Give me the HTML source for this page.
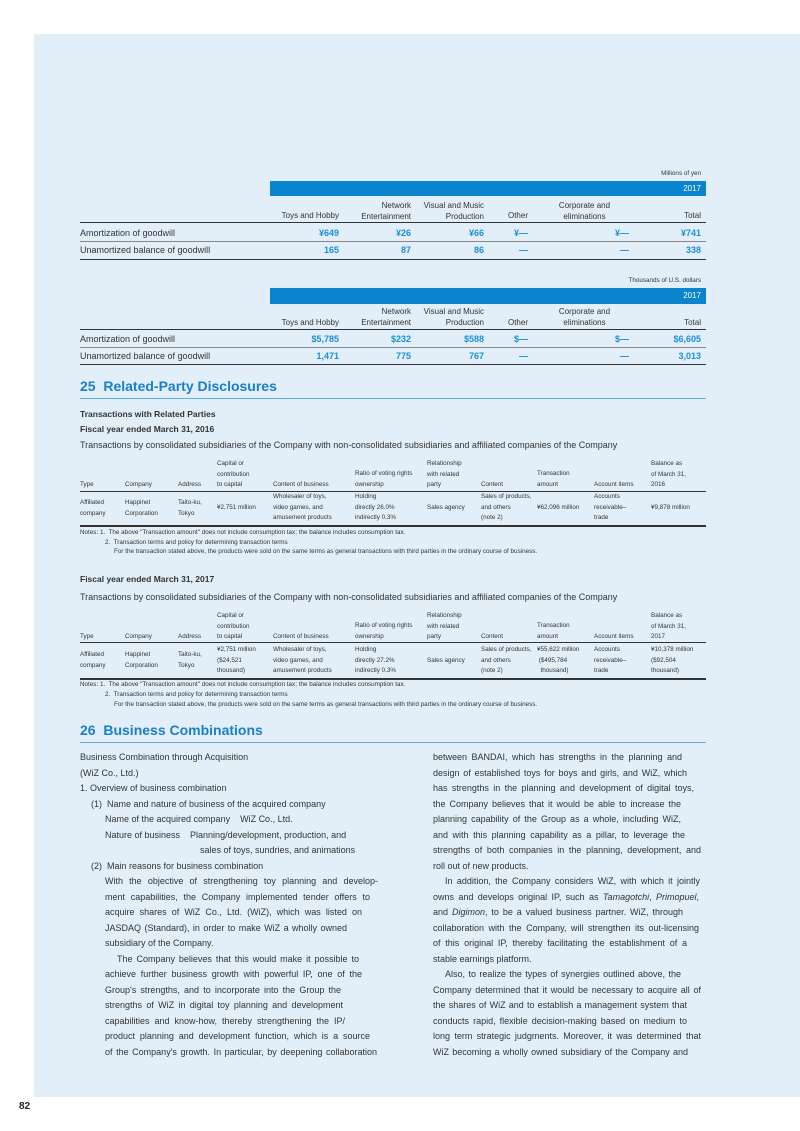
<!DOCTYPE html>
<html><head><meta charset="utf-8"><style>
*{margin:0;padding:0}
body{width:800px;height:1131px;background:#fff;position:relative;overflow:hidden;font-family:"Liberation Sans",sans-serif;color:#333}
.bg{position:absolute;left:34px;top:34px;width:766px;height:1063px;background:#e2eff9}
.t{position:absolute;white-space:nowrap;line-height:1}
.r{text-align:right}
.bar{position:absolute;background:#0a84cc}
.ln{position:absolute;height:1px;background:#333}
.h9{font-size:8px}
.b{font-size:9px}
.blue{color:#1a8fd8;font-weight:bold}
.s{font-size:6.3px;line-height:10.5px}
.j{text-align:justify;text-align-last:justify}
.p{font-size:9px}
h2{position:absolute;font-size:14px;color:#1a7fc8;font-weight:bold;white-space:nowrap}
</style></head><body>
<div class="bg"></div>

<!-- Table 1 -->
<div class="t s r" style="left:600px;top:169px;width:101px">Millions of yen</div>
<div class="bar" style="left:270px;top:181px;width:436px;height:15px"></div>
<div class="t h9 r" style="left:600px;top:185px;width:101px;color:#fff">2017</div>
<div class="t h9 r" style="left:250px;top:212px;width:89px">Toys and Hobby</div>
<div class="t h9 r" style="left:330px;top:202px;width:81px">Network<br><span style="line-height:13px">Entertainment</span></div>
<div class="t h9 r" style="left:400px;top:202px;width:84px">Visual and Music<br><span style="line-height:13px">Production</span></div>
<div class="t h9 r" style="left:480px;top:212px;width:48px">Other</div>
<div class="t h9 r" style="left:540px;top:202px;width:89px;text-align:center">Corporate and<br><span style="line-height:13px">eliminations</span></div>
<div class="t h9 r" style="left:640px;top:212px;width:61px">Total</div>
<div class="ln" style="left:80px;top:222px;width:626px"></div>
<div class="t b" style="left:80px;top:229px">Amortization of goodwill</div>
<div class="t b blue r" style="left:250px;top:229px;width:89px">¥649</div>
<div class="t b blue r" style="left:330px;top:229px;width:81px">¥26</div>
<div class="t b blue r" style="left:400px;top:229px;width:84px">¥66</div>
<div class="t b blue r" style="left:480px;top:229px;width:48px">¥—</div>
<div class="t b blue r" style="left:540px;top:229px;width:89px">¥—</div>
<div class="t b blue r" style="left:640px;top:229px;width:61px">¥741</div>
<div class="ln" style="left:80px;top:241px;width:626px;background:#888"></div>
<div class="t b" style="left:80px;top:246px">Unamortized balance of goodwill</div>
<div class="t b blue r" style="left:250px;top:246px;width:89px">165</div>
<div class="t b blue r" style="left:330px;top:246px;width:81px">87</div>
<div class="t b blue r" style="left:400px;top:246px;width:84px">86</div>
<div class="t b blue r" style="left:480px;top:246px;width:48px">—</div>
<div class="t b blue r" style="left:540px;top:246px;width:89px">—</div>
<div class="t b blue r" style="left:640px;top:246px;width:61px">338</div>
<div class="ln" style="left:80px;top:259px;width:626px"></div>

<!-- Table 2 -->
<div class="t s r" style="left:560px;top:276px;width:141px">Thousands of U.S. dollars</div>
<div class="bar" style="left:270px;top:288px;width:436px;height:16px"></div>
<div class="t h9 r" style="left:600px;top:292px;width:101px;color:#fff">2017</div>
<div class="t h9 r" style="left:250px;top:319px;width:89px">Toys and Hobby</div>
<div class="t h9 r" style="left:330px;top:308px;width:81px">Network<br><span style="line-height:13px">Entertainment</span></div>
<div class="t h9 r" style="left:400px;top:308px;width:84px">Visual and Music<br><span style="line-height:13px">Production</span></div>
<div class="t h9 r" style="left:480px;top:319px;width:48px">Other</div>
<div class="t h9 r" style="left:540px;top:308px;width:89px;text-align:center">Corporate and<br><span style="line-height:13px">eliminations</span></div>
<div class="t h9 r" style="left:640px;top:319px;width:61px">Total</div>
<div class="ln" style="left:80px;top:329px;width:626px"></div>
<div class="t b" style="left:80px;top:335px">Amortization of goodwill</div>
<div class="t b blue r" style="left:250px;top:335px;width:89px">$5,785</div>
<div class="t b blue r" style="left:330px;top:335px;width:81px">$232</div>
<div class="t b blue r" style="left:400px;top:335px;width:84px">$588</div>
<div class="t b blue r" style="left:480px;top:335px;width:48px">$—</div>
<div class="t b blue r" style="left:540px;top:335px;width:89px">$—</div>
<div class="t b blue r" style="left:640px;top:335px;width:61px">$6,605</div>
<div class="ln" style="left:80px;top:347px;width:626px;background:#888"></div>
<div class="t b" style="left:80px;top:352px">Unamortized balance of goodwill</div>
<div class="t b blue r" style="left:250px;top:352px;width:89px">1,471</div>
<div class="t b blue r" style="left:330px;top:352px;width:81px">775</div>
<div class="t b blue r" style="left:400px;top:352px;width:84px">767</div>
<div class="t b blue r" style="left:480px;top:352px;width:48px">—</div>
<div class="t b blue r" style="left:540px;top:352px;width:89px">—</div>
<div class="t b blue r" style="left:640px;top:352px;width:61px">3,013</div>
<div class="ln" style="left:80px;top:364px;width:626px"></div>

<h2 style="left:80px;top:378px">25&nbsp; Related-Party Disclosures</h2>
<div class="ln" style="left:80px;top:398px;width:626px;background:#5aaee0"></div>

<div class="t" style="left:80px;top:410px;font-size:8.5px;font-weight:bold">Transactions with Related Parties</div>
<div class="t" style="left:80px;top:425px;font-size:8.5px;font-weight:bold">Fiscal year ended March 31, 2016</div>
<div class="t p" style="left:80px;top:441px">Transactions by consolidated subsidiaries of the Company with non-consolidated subsidiaries and affiliated companies of the Company</div>

<div class="t s" style="left:80px;top:480px">Type</div>
<div class="t s" style="left:125px;top:480px">Company</div>
<div class="t s" style="left:178px;top:480px">Address</div>
<div class="t s" style="left:217px;top:459px">Capital or<br>contribution<br>to capital</div>
<div class="t s" style="left:273px;top:480px">Content of business</div>
<div class="t s" style="left:355px;top:469px">Ratio of voting rights<br>ownership</div>
<div class="t s" style="left:427px;top:459px">Relationship<br>with related<br>party</div>
<div class="t s" style="left:481px;top:480px">Content</div>
<div class="t s" style="left:537px;top:469px">Transaction<br>amount</div>
<div class="t s" style="left:594px;top:480px">Account items</div>
<div class="t s" style="left:651px;top:459px">Balance as<br>of March 31,<br>2016</div>
<div class="ln" style="left:80px;top:491px;width:626px"></div>
<div class="t s" style="left:80px;top:498px">Affiliated<br>company</div>
<div class="t s" style="left:125px;top:498px">Happinet<br>Corporation</div>
<div class="t s" style="left:178px;top:498px">Taito-ku,<br>Tokyo</div>
<div class="t s" style="left:217px;top:503px">¥2,751 million</div>
<div class="t s" style="left:273px;top:492px">Wholesaler of toys,<br>video games, and<br>amusement products</div>
<div class="t s" style="left:355px;top:492px">Holding<br>directly 26.0%<br>indirectly 0.3%</div>
<div class="t s" style="left:427px;top:503px">Sales agency</div>
<div class="t s" style="left:481px;top:492px">Sales of products,<br>and others<br>(note 2)</div>
<div class="t s" style="left:537px;top:503px">¥62,096 million</div>
<div class="t s" style="left:594px;top:492px">Accounts<br>receivable–<br>trade</div>
<div class="t s" style="left:651px;top:503px">¥9,878 million</div>
<div class="ln" style="left:80px;top:525px;width:626px;height:1.5px"></div>
<div class="t s" style="left:80px;top:528px">Notes: 1.&nbsp; The above "Transaction amount" does not include consumption tax; the balance includes consumption tax.</div>
<div class="t s" style="left:105px;top:538px">2.&nbsp; Transaction terms and policy for determining transaction terms</div>
<div class="t s" style="left:114px;top:547px">For the transaction stated above, the products were sold on the same terms as general transactions with third parties in the ordinary course of business.</div>

<div class="t" style="left:80px;top:575px;font-size:8.5px;font-weight:bold">Fiscal year ended March 31, 2017</div>
<div class="t p" style="left:80px;top:593px">Transactions by consolidated subsidiaries of the Company with non-consolidated subsidiaries and affiliated companies of the Company</div>

<div class="t s" style="left:80px;top:632px">Type</div>
<div class="t s" style="left:125px;top:632px">Company</div>
<div class="t s" style="left:178px;top:632px">Address</div>
<div class="t s" style="left:217px;top:611px">Capital or<br>contribution<br>to capital</div>
<div class="t s" style="left:273px;top:632px">Content of business</div>
<div class="t s" style="left:355px;top:621px">Ratio of voting rights<br>ownership</div>
<div class="t s" style="left:427px;top:611px">Relationship<br>with related<br>party</div>
<div class="t s" style="left:481px;top:632px">Content</div>
<div class="t s" style="left:537px;top:621px">Transaction<br>amount</div>
<div class="t s" style="left:594px;top:632px">Account items</div>
<div class="t s" style="left:651px;top:611px">Balance as<br>of March 31,<br>2017</div>
<div class="ln" style="left:80px;top:642px;width:626px"></div>
<div class="t s" style="left:80px;top:650px">Affiliated<br>company</div>
<div class="t s" style="left:125px;top:650px">Happinet<br>Corporation</div>
<div class="t s" style="left:178px;top:650px">Taito-ku,<br>Tokyo</div>
<div class="t s" style="left:217px;top:645px">¥2,751 million<br>($24,521<br>thousand)</div>
<div class="t s" style="left:273px;top:645px">Wholesaler of toys,<br>video games, and<br>amusement products</div>
<div class="t s" style="left:355px;top:645px">Holding<br>directly 27.2%<br>indirectly 0.3%</div>
<div class="t s" style="left:427px;top:656px">Sales agency</div>
<div class="t s" style="left:481px;top:645px">Sales of products,<br>and others<br>(note 2)</div>
<div class="t s" style="left:537px;top:645px">¥55,622 million<br>&nbsp;($495,784<br>&nbsp;&nbsp;thousand)</div>
<div class="t s" style="left:594px;top:645px">Accounts<br>receivable–<br>trade</div>
<div class="t s" style="left:651px;top:645px">¥10,378 million<br>($92,504<br>thousand)</div>
<div class="ln" style="left:80px;top:678px;width:626px;height:1.5px"></div>
<div class="t s" style="left:80px;top:680px">Notes: 1.&nbsp; The above "Transaction amount" does not include consumption tax; the balance includes consumption tax.</div>
<div class="t s" style="left:105px;top:690px">2.&nbsp; Transaction terms and policy for determining transaction terms</div>
<div class="t s" style="left:114px;top:700px">For the transaction stated above, the products were sold on the same terms as general transactions with third parties in the ordinary course of business.</div>

<h2 style="left:80px;top:722px">26&nbsp; Business Combinations</h2>
<div class="ln" style="left:80px;top:742px;width:626px;background:#5aaee0"></div>

<!-- Left column -->
<div class="t p" style="left:80px;top:753px">Business Combination through Acquisition</div>
<div class="t p" style="left:80px;top:768.5px">(WiZ Co., Ltd.)</div>
<div class="t p" style="left:80px;top:784px">1. Overview of business combination</div>
<div class="t p" style="left:91px;top:799.5px">(1)&nbsp; Name and nature of business of the acquired company</div>
<div class="t p" style="left:105px;top:815px">Name of the acquired company&nbsp;&nbsp;&nbsp; WiZ Co., Ltd.</div>
<div class="t p" style="left:105px;top:830.5px">Nature of business&nbsp;&nbsp;&nbsp; Planning/development, production, and</div>
<div class="t p" style="left:200px;top:846px">sales of toys, sundries, and animations</div>
<div class="t p" style="left:91px;top:861.5px">(2)&nbsp; Main reasons for business combination</div>
<div class="t p j" style="left:105px;top:877px;width:273px">With the objective of strengthening toy planning and develop-</div>
<div class="t p j" style="left:105px;top:892.5px;width:265px">ment capabilities, the Company implemented tender offers to</div>
<div class="t p j" style="left:105px;top:908px;width:257px">acquire shares of WiZ Co., Ltd. (WiZ), which was listed on</div>
<div class="t p j" style="left:105px;top:923.5px;width:242px">JASDAQ (Standard), in order to make WiZ a wholly owned</div>
<div class="t p" style="left:105px;top:939px">subsidiary of the Company.</div>
<div class="t p j" style="left:117px;top:954.5px;width:242px">The Company believes that this would make it possible to</div>
<div class="t p j" style="left:105px;top:970px;width:257px">achieve further business growth with powerful IP, one of the</div>
<div class="t p j" style="left:105px;top:985.5px;width:236px">Group's strengths, and to incorporate into the Group the</div>
<div class="t p j" style="left:105px;top:1001px;width:238px">strengths of WiZ in digital toy planning and development</div>
<div class="t p j" style="left:105px;top:1016.5px;width:240px">capabilities and know-how, thereby strengthening the IP/</div>
<div class="t p j" style="left:105px;top:1032px;width:265px">product planning and development function, which is a source</div>
<div class="t p j" style="left:105px;top:1047.5px;width:272px">of the Company's growth. In particular, by deepening collaboration</div>

<!-- Right column -->
<div class="t p j" style="left:433px;top:753px;width:249px">between BANDAI, which has strengths in the planning and</div>
<div class="t p j" style="left:433px;top:768.5px;width:254px">design of established toys for boys and girls, and WiZ, which</div>
<div class="t p j" style="left:433px;top:784px;width:261px">has strengths in the planning and development of digital toys,</div>
<div class="t p j" style="left:433px;top:799.5px;width:248px">the Company believes that it would be able to increase the</div>
<div class="t p j" style="left:433px;top:815px;width:248px">planning capability of the Group as a whole, including WiZ,</div>
<div class="t p j" style="left:433px;top:830.5px;width:252px">and with this planning capability as a pillar, to leverage the</div>
<div class="t p j" style="left:433px;top:846px;width:268px">strengths of both companies in the planning, development, and</div>
<div class="t p" style="left:433px;top:861.5px">roll out of new products.</div>
<div class="t p j" style="left:445px;top:877px;width:255px">In addition, the Company considers WiZ, with which it jointly</div>
<div class="t p j" style="left:433px;top:892.5px;width:266px">owns and develops original IP, such as <i>Tamagotchi</i>, <i>Primopuel</i>,</div>
<div class="t p j" style="left:433px;top:908px;width:250px">and <i>Digimon</i>, to be a valued business partner. WiZ, through</div>
<div class="t p j" style="left:433px;top:923.5px;width:266px">collaboration with the Company, will strengthen its out-licensing</div>
<div class="t p j" style="left:433px;top:939px;width:254px">of this original IP, thereby facilitating the establishment of a</div>
<div class="t p" style="left:433px;top:954.5px">stable earnings platform.</div>
<div class="t p j" style="left:445px;top:970px;width:236px">Also, to realize the types of synergies outlined above, the</div>
<div class="t p j" style="left:433px;top:985.5px;width:268px">Company determined that it would be necessary to acquire all of</div>
<div class="t p j" style="left:433px;top:1001px;width:254px">the shares of WiZ and to establish a management system that</div>
<div class="t p j" style="left:433px;top:1016.5px;width:254px">conducts rapid, flexible decision-making based on medium to</div>
<div class="t p j" style="left:433px;top:1032px;width:268px">long term strategic judgments. Moreover, it was determined that</div>
<div class="t p j" style="left:433px;top:1047.5px;width:255px">WiZ becoming a wholly owned subsidiary of the Company and</div>

<div class="t" style="left:19px;top:1102px;font-size:10px;font-weight:bold;color:#222">82</div>
</body></html>
